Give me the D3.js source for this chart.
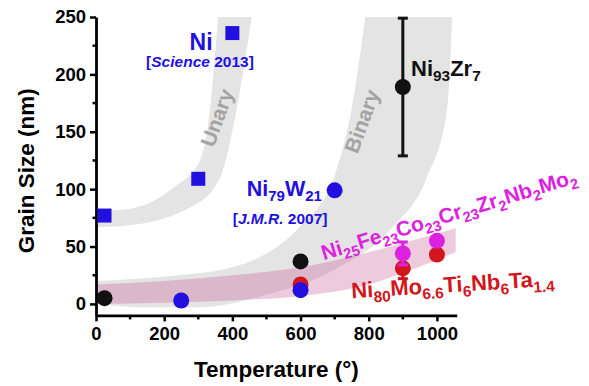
<!DOCTYPE html>
<html>
<head>
<meta charset="utf-8">
<script src="https://cdn.jsdelivr.net/npm/d3@7"></script>
<style>
  body { margin: 0; background: #fff; }
  svg text { font-family: "Liberation Sans", Arial, sans-serif; font-weight: bold; }
</style>
</head>
<body>
<div id="chart"></div>
<script>
// values: [temperature, grain size, error]
const niSquares = [[25, 77], [300, 109], [400, 236]];
const niW = [[250, 3], [600, 12], [700, 99]];
const niZr = [[25, 5, 0], [600, 37, 0], [900, 189, 60]];
const hea1 = [[600, 17, 0], [900, 31, 9], [1000, 43, 0]];   // Ni80Mo6.6Ti6Nb6Ta1.4
const hea2 = [[900, 44, 10], [1000, 55, 0]];                // Ni25Fe23Co23Cr23Zr2Nb2Mo2

// guide bands: upper edge / lower edge
const unaryUpper = [[0, 81], [80, 82], [226, 101], [305, 125], [334, 169], [358, 250]];
const unaryLower = [[0, 67], [80, 68], [276, 84], [364, 110], [402, 154], [457, 250]];
const binaryUpper = [[0, 20], [200, 24], [400, 32], [500, 44], [600, 68], [700, 112], [750, 170], [790, 250]];
const binaryLower = [[0, 0], [150, -3], [300, -3], [500, 8], [700, 30], [870, 67], [970, 110], [1030, 170], [1045, 250]];
const heaUpper = [[0, 17], [200, 20], [400, 25], [600, 32], [800, 45], [900, 53], [1055, 66]];
const heaLower = [[0, 0], [200, 1], [400, 3], [600, 7], [800, 17], [900, 27], [1055, 45]];

const xMajor = [0, 200, 400, 600, 800, 1000];
const xMinor = [100, 300, 500, 700, 900];
const yMajor = [0, 50, 100, 150, 200, 250];
const yMinor = [25, 75, 125, 175, 225];

const width = 589, height = 386;
const x = d3.scaleLinear().domain([0, 1058]).range([96, 456.7]);
const y = d3.scaleLinear().domain([-10, 250]).range([315.4, 17]);

const BLUE = "#2110e0", BLACK = "#111", RED = "#d2161e", MAGENTA = "#dc22e0";

const svg = d3.select("#chart").append("svg")
    .attr("width", width)
    .attr("height", height);

svg.append("clipPath").attr("id", "plot")
    .append("rect")
    .attr("x", x(0)).attr("y", y(250))
    .attr("width", x(1058) - x(0)).attr("height", y(-10) - y(250));

const edge = d3.line().x(d => x(d[0])).y(d => y(d[1])).curve(d3.curveMonotoneX);
function band(upper, lower) {
    const back = edge(lower.slice().reverse());
    return edge(upper) + "L" + back.slice(1) + "Z";
}

const bands = svg.append("g").attr("clip-path", "url(#plot)");
bands.append("path").attr("d", band(unaryUpper, unaryLower)).attr("fill", "#e4e4e4");
bands.append("path").attr("d", band(binaryUpper, binaryLower)).attr("fill", "#e4e4e4");
bands.append("path").attr("d", band(heaUpper, heaLower))
    .attr("fill", "#c4508c").attr("fill-opacity", 0.3);

// band labels
svg.append("text")
    .attr("transform", `translate(${x(375)},${y(160)}) rotate(-70)`)
    .attr("text-anchor", "middle")
    .attr("font-size", 21)
    .attr("fill", "#a3a3a3")
    .text("Unary");
svg.append("text")
    .attr("transform", `translate(${x(800)},${y(157)}) rotate(-70)`)
    .attr("text-anchor", "middle")
    .attr("font-size", 21)
    .attr("fill", "#a3a3a3")
    .text("Binary");

// axes
const xAxis = svg.append("g").attr("transform", `translate(0,${y(-10)})`);
xAxis.call(d3.axisBottom(x).tickValues(xMajor).tickFormat(d3.format("d"))
    .tickSize(6).tickSizeOuter(0).tickPadding(5));
xAxis.selectAll(".minor").data(xMinor).enter().append("line")
    .attr("x1", d => x(d)).attr("x2", d => x(d)).attr("y1", 0).attr("y2", 4)
    .attr("stroke", "#000").attr("stroke-width", 2.5);

const yAxis = svg.append("g").attr("transform", `translate(${x(0)},0)`);
yAxis.call(d3.axisLeft(y).tickValues(yMajor).tickSize(6).tickSizeOuter(0).tickPadding(4));
yAxis.selectAll(".minor").data(yMinor).enter().append("line")
    .attr("y1", d => y(d)).attr("y2", d => y(d)).attr("x1", 0).attr("x2", -3.5)
    .attr("stroke", "#000").attr("stroke-width", 2.5);

svg.selectAll(".domain").attr("stroke", "#000").attr("stroke-width", 2.8);
svg.selectAll(".tick line").attr("stroke", "#000").attr("stroke-width", 2.5);
svg.selectAll(".tick text")
    .attr("font-size", 18.5)
    .attr("font-family", "'Liberation Sans', Arial, sans-serif")
    .attr("font-weight", "bold")
    .attr("fill", "#000");

svg.append("text")
    .attr("x", x(529)).attr("y", 377)
    .attr("text-anchor", "middle")
    .attr("font-size", 22.5)
    .text("Temperature (°)");
svg.append("text")
    .attr("transform", `translate(34,${y(116)}) rotate(-90)`)
    .attr("text-anchor", "middle")
    .attr("font-size", 22.5)
    .text("Grain Size (nm)");

// error bars
function errorBars(data, color) {
    const g = svg.append("g").attr("stroke", color).attr("stroke-width", 3);
    data.filter(d => d[2] > 0).forEach(d => {
        g.append("line").attr("x1", x(d[0])).attr("x2", x(d[0]))
            .attr("y1", y(d[1] - d[2])).attr("y2", y(d[1] + d[2]));
        [d[1] - d[2], d[1] + d[2]].forEach(v => {
            g.append("line").attr("x1", x(d[0]) - 5).attr("x2", x(d[0]) + 5)
                .attr("y1", y(v)).attr("y2", y(v));
        });
    });
}
function circles(data, color) {
    svg.append("g").selectAll("circle").data(data).enter().append("circle")
        .attr("cx", d => x(d[0])).attr("cy", d => y(d[1]))
        .attr("r", 8).attr("fill", color);
}

errorBars(hea1, RED);
circles(hea1, RED);
errorBars(hea2, MAGENTA);
circles(hea2, MAGENTA);
errorBars(niZr, BLACK);
circles(niZr, BLACK);
circles(niW, BLUE);
svg.append("g").selectAll("rect").data(niSquares).enter().append("rect")
    .attr("x", d => x(d[0]) - 7).attr("y", d => y(d[1]) - 7)
    .attr("width", 14).attr("height", 14)
    .attr("fill", BLUE);

// formula labels with subscripts
function formula(parts, px, py, color, size, angle, anchor) {
    const t = svg.append("text")
        .attr("transform", `translate(${px},${py}) rotate(${angle || 0})`)
        .attr("text-anchor", anchor || "start")
        .attr("font-size", size)
        .attr("fill", color);
    let low = false;
    parts.forEach(p => {
        const sub = /^[0-9.]+$/.test(p);
        const ts = t.append("tspan").text(p);
        if (sub) ts.attr("font-size", size * 0.7);
        if (sub !== low) ts.attr("dy", sub ? size * 0.25 : -size * 0.25);
        low = sub;
    });
    return t;
}

formula(["Ni"], x(342), y(221), BLUE, 23, 0, "end");
const sci = svg.append("text")
    .attr("x", x(305)).attr("y", y(206))
    .attr("text-anchor", "middle")
    .attr("font-size", 15.5)
    .attr("fill", BLUE);
sci.append("tspan").text("[");
sci.append("tspan").attr("font-style", "italic").text("Science");
sci.append("tspan").attr("font-style", "normal").text(" 2013]");

formula(["Ni", "79", "W", "21"], x(442), y(94), BLUE, 21.5, 0);
const jmr = svg.append("text")
    .attr("x", x(401)).attr("y", y(70))
    .attr("font-size", 15.5)
    .attr("fill", BLUE);
jmr.append("tspan").text("[");
jmr.append("tspan").attr("font-style", "italic").text("J.M.R.");
jmr.append("tspan").attr("font-style", "normal").text(" 2007]");

formula(["Ni", "93", "Zr", "7"], x(924), y(199), BLACK, 22, 0);
formula(["Ni", "25", "Fe", "23", "Co", "23", "Cr", "23", "Zr", "2", "Nb", "2", "Mo", "2"],
    x(668), y(38), MAGENTA, 21, -17);
formula(["Ni", "80", "Mo", "6.6", "Ti", "6", "Nb", "6", "Ta", "1.4"],
    x(750), y(5), RED, 22, -3.5);
</script>
</body>
</html>
